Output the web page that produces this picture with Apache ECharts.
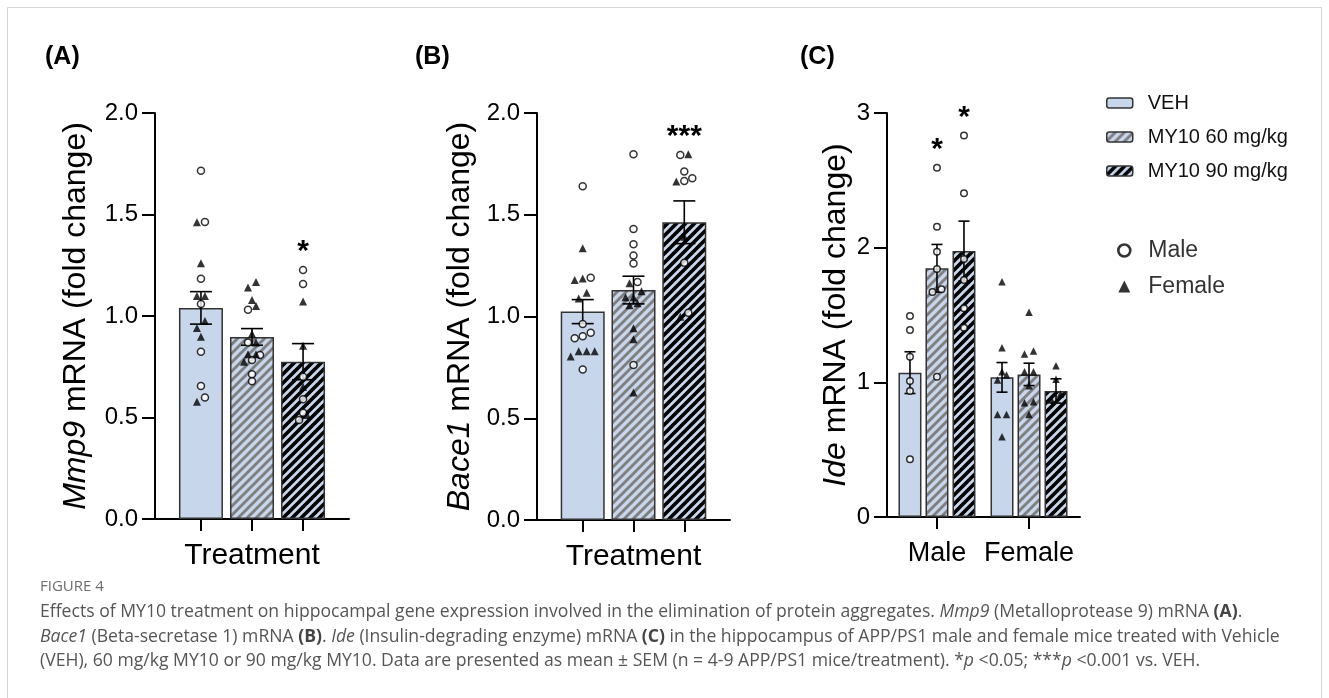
<!DOCTYPE html>
<html lang="en">
<head>
<meta charset="utf-8">
<title>Figure 4</title>
<style>
  html, body { margin: 0; padding: 0; background: #fff; }
  #fig { width: 1329px; height: 698px; }
</style>
</head>
<body>
<div id="fig"></div>
<script src="https://cdn.jsdelivr.net/npm/echarts@6/dist/echarts.min.js"></script>
<script>
var treatments = ['VEH', 'MY10 60 mg/kg', 'MY10 90 mg/kg'];
var sexes = ['Male', 'Female'];

// (A) Mmp9 - mean, SEM and individual animals per treatment
var mmp9Mean = [1.04, 0.897, 0.775];
var mmp9Sem = [0.08, 0.041, 0.089];
var mmp9Male = [
  [1.716, 1.463, 1.184, 1.059, 0.824, 0.655, 0.599],
  [1.031, 0.869, 0.808, 0.783, 0.713, 0.678],
  [1.227, 1.158, 0.701, 0.59, 0.524, 0.488]
];
var mmp9Female = [
  [1.462, 1.26, 1.099, 1.099, 0.975, 0.941, 0.898, 0.578],
  [1.167, 1.14, 1.079, 1.049, 0.913, 0.869, 0.811, 0.811, 0.775],
  [1.071, 0.854, 0.652, 0.512]
];
var mmp9Sig = ['', '', '*'];

// (B) Bace1
var bace1Mean = [1.024, 1.13, 1.463];
var bace1Sem = [0.059, 0.068, 0.105];
var bace1Male = [
  [1.64, 1.19, 0.963, 0.92, 0.903, 0.893, 0.74],
  [1.797, 1.43, 1.355, 1.30, 1.261, 1.17, 0.762],
  [1.794, 1.712, 1.679, 1.666, 1.264, 1.019]
];
var bace1Female = [
  [1.335, 1.187, 1.179, 1.117, 1.089, 0.829, 0.829, 0.829, 0.803],
  [1.163, 1.124, 1.094, 1.094, 1.065, 1.055, 0.942, 0.888, 0.626],
  [1.797, 1.663, 1.392, 0.999]
];
var bace1Sig = ['', '', '***'];

// (C) Ide, split by sex
var ideMaleMean = [1.072, 1.847, 1.975];
var ideMaleSem = [0.155, 0.177, 0.222];
var ideFemaleMean = [1.037, 1.059, 0.936];
var ideFemaleSem = [0.11, 0.083, 0.09];
var ideMale = [
  [1.493, 1.389, 1.19, 1.01, 0.936, 0.428],
  [2.594, 2.156, 1.97, 1.842, 1.691, 1.671, 1.042],
  [2.832, 2.404, 1.916, 1.76, 1.55, 1.406]
];
var ideFemale = [
  [1.747, 1.257, 1.079, 1.054, 1.017, 0.762, 0.762, 0.596],
  [1.52, 1.233, 1.21, 1.079, 1.079, 0.975, 0.856, 0.849, 0.762],
  [1.124, 1.022, 0.913, 0.869]
];
var ideMaleSig = ['', '*', '*'];
var ideFemaleSig = ['', '', ''];

var FONT = "'Liberation Sans', Arial, Helvetica, sans-serif";
var CAPFONT = "'Open Sans', 'Noto Sans', sans-serif";
var BLUE = '#c7d6ea';

// stripe tile used as a bar fill
function stripes(lineColor, lineW) {
  var s = 9, c = document.createElement('canvas');
  c.width = s; c.height = s;
  var g = c.getContext('2d');
  g.fillStyle = BLUE;
  g.fillRect(0, 0, s, s);
  g.strokeStyle = lineColor;
  g.lineWidth = lineW;
  g.beginPath();
  for (var k = -1; k <= 1; k++) {
    g.moveTo(k * s - 2, s + 2);
    g.lineTo(k * s + s + 2, -2);
  }
  g.stroke();
  return c;
}
var fills = [
  BLUE,
  { image: stripes('#7f7f7f', 2.9), repeat: 'repeat' },
  { image: stripes('#000', 3.6), repeat: 'repeat' }
];

// rows of close values get spread sideways, like the prism dot plot
function swarm(values, pxPerUnit, gap, rowPx) {
  var idx = values.map(function (v, i) { return i; });
  idx.sort(function (a, b) { return values[a] - values[b]; });
  var offs = [], row = [];
  function flush() {
    row.forEach(function (k, n) { offs[k] = (n - (row.length - 1) / 2) * gap; });
    row = [];
  }
  idx.forEach(function (k) {
    if (row.length && (values[k] - values[row[0]]) * pxPerUnit > rowPx) flush();
    row.push(k);
  });
  flush();
  return offs;
}

var grids = [
  { left: 155, top: 113, width: 194, height: 406 },
  { left: 537, top: 113, width: 193, height: 407 },
  { left: 887, top: 113, width: 193, height: 404 }
];

var series = [];

function errorSeries(p, data, cap) {
  return {
    type: 'custom', xAxisIndex: p, yAxisIndex: p, z: 3, silent: true,
    renderItem: function (params, api) {
      var x = api.value(0), m = api.value(1), s = api.value(2), sh = api.value(3);
      var top = api.coord([x, m + s]), bot = api.coord([x, m - s]);
      var cx = top[0] + sh;
      var st = { stroke: '#000', lineWidth: 1.6, fill: 'none' };
      return { type: 'group', children: [
        { type: 'line', shape: { x1: cx, y1: top[1], x2: cx, y2: bot[1] }, style: st },
        { type: 'line', shape: { x1: cx - cap / 2, y1: top[1], x2: cx + cap / 2, y2: top[1] }, style: st },
        { type: 'line', shape: { x1: cx - cap / 2, y1: bot[1], x2: cx + cap / 2, y2: bot[1] }, style: st }
      ] };
    },
    data: data
  };
}

function starSeries(p, data, labels) {
  return {
    type: 'custom', xAxisIndex: p, yAxisIndex: p, z: 5, silent: true,
    renderItem: function (params, api) {
      var t = labels[params.dataIndex];
      if (!t) return null;
      var pt = api.coord([api.value(0), api.value(1)]);
      return { type: 'text', x: pt[0] + api.value(2), y: pt[1] - 18,
        style: { text: t, fill: '#000', font: 'bold 30px ' + FONT, align: 'center', verticalAlign: 'middle' } };
    },
    data: data
  };
}

var maleStyle = { symbol: 'circle', symbolSize: 7, itemStyle: { color: '#fff', borderColor: '#000', borderWidth: 1.5 } };
var femaleStyle = { symbol: 'triangle', symbolSize: 8, itemStyle: { color: '#000', borderColor: '#000', borderWidth: 0 } };

function scatterSeries(p, name, data, st, size) {
  return {
    type: 'scatter', name: name, xAxisIndex: p, yAxisIndex: p, z: 4, silent: true,
    symbol: st.symbol, symbolSize: size || st.symbolSize, itemStyle: st.itemStyle, data: data
  };
}

// panels A and B: one column per treatment
[[mmp9Mean, mmp9Sem, mmp9Male, mmp9Female, mmp9Sig], [bace1Mean, bace1Sem, bace1Male, bace1Female, bace1Sig]].forEach(function (d, p) {
  var ppu = grids[p].height / 2;
  var males = [], females = [], errs = [], stars = [];
  treatments.forEach(function (t, j) {
    series.push({
      type: 'bar', name: t, xAxisIndex: p, yAxisIndex: p, barWidth: 44, barGap: '-100%', z: 2,
      itemStyle: { color: fills[j], borderColor: '#333', borderWidth: 1.5 },
      data: [[j + 1, d[0][j]]]
    });
    var all = d[2][j].concat(d[3][j]);
    var offs = swarm(all, ppu, 8, 7);
    all.forEach(function (v, i) {
      var item = { value: [j + 1, v], symbolOffset: [offs[i], 0] };
      (i < d[2][j].length ? males : females).push(item);
    });
    errs.push([j + 1, d[0][j], d[1][j], 0]);
    stars.push([j + 1, Math.max.apply(null, all), 0]);
  });
  series.push(errorSeries(p, errs, 22));
  series.push(scatterSeries(p, 'Male', males, maleStyle));
  series.push(scatterSeries(p, 'Female', females, femaleStyle));
  series.push(starSeries(p, stars, d[4]));
});

// panel C: treatments side by side inside each sex
(function () {
  var p = 2, bw = 23, step = 27;
  var ppu = grids[p].height / 3;
  var means = [ideMaleMean, ideFemaleMean], sems = [ideMaleSem, ideFemaleSem];
  var pts = [ideMale, ideFemale], sigs = [ideMaleSig, ideFemaleSig];
  var males = [], females = [], errs = [], stars = [], starLabels = [];
  treatments.forEach(function (t, j) {
    series.push({
      type: 'bar', name: t, xAxisIndex: p, yAxisIndex: p, barWidth: bw, barGap: ((step - bw) / bw * 100) + '%', z: 2,
      itemStyle: { color: fills[j], borderColor: '#333', borderWidth: 1.5 },
      data: [[1, ideMaleMean[j]], [2, ideFemaleMean[j]]]
    });
  });
  sexes.forEach(function (s, g) {
    treatments.forEach(function (t, j) {
      var sh = (j - 1) * step;
      var vals = pts[g][j];
      var offs = swarm(vals, ppu, 9, 7);
      vals.forEach(function (v, i) {
        var item = { value: [g + 1, v], symbolOffset: [sh + offs[i], 0] };
        (g === 0 ? males : females).push(item);
      });
      errs.push([g + 1, means[g][j], sems[g][j], sh]);
      stars.push([g + 1, Math.max.apply(null, vals), sh]);
      starLabels.push(sigs[g][j]);
    });
  });
  series.push(errorSeries(p, errs, 11));
  series.push(scatterSeries(p, 'Male', males, maleStyle, 6.5));
  series.push(scatterSeries(p, 'Female', females, femaleStyle, 7.5));
  series.push(starSeries(p, stars, starLabels));
})();

var axisLine = { show: true, lineStyle: { color: '#000', width: 2 } };
var axisTick = { show: true, length: 13, lineStyle: { color: '#000', width: 2 } };

function yAxis(p, max, name, nameGap, fmt) {
  return {
    type: 'value', gridIndex: p, min: 0, max: max, interval: max === 3 ? 1 : 0.5,
    axisLine: axisLine, axisTick: axisTick, splitLine: { show: false },
    axisLabel: { fontSize: 24, color: '#000', fontFamily: FONT, margin: 17, formatter: fmt },
    name: name, nameLocation: 'middle', nameGap: nameGap, nameRotate: 90,
    nameTextStyle: { fontSize: 32, color: '#000', fontFamily: FONT,
      rich: { i: { fontSize: 32, fontStyle: 'italic', color: '#000', fontFamily: FONT } } }
  };
}
function fix1(v) { return v.toFixed(1); }

function treatAxis(p) {
  return {
    type: 'value', gridIndex: p, min: 0.1, max: 3.9, axisLine: axisLine, splitLine: { show: false },
    axisTick: { show: true, length: 12, customValues: [1, 2, 3], lineStyle: { color: '#000', width: 2 } },
    axisLabel: { show: false },
    name: 'Treatment', nameLocation: 'middle', nameGap: 22,
    nameTextStyle: { fontSize: 30, color: '#000', fontFamily: FONT }
  };
}

var capRich = {
  i: { fontStyle: 'italic', fontSize: 17.6, fontFamily: CAPFONT, fill: '#555' },
  b: { fontWeight: 'bold', fontSize: 17.6, fontFamily: CAPFONT, fill: '#444' }
};

var option = {
  animation: false,
  backgroundColor: '#fff',
  textStyle: { fontFamily: FONT },
  title: [
    { text: '(A)', left: 45, top: 45, padding: 0, textStyle: { fontSize: 25, fontWeight: 'bold', color: '#000', fontFamily: FONT } },
    { text: '(B)', left: 415, top: 45, padding: 0, textStyle: { fontSize: 25, fontWeight: 'bold', color: '#000', fontFamily: FONT } },
    { text: '(C)', left: 800, top: 45, padding: 0, textStyle: { fontSize: 25, fontWeight: 'bold', color: '#000', fontFamily: FONT } }
  ],
  legend: [
    {
      data: treatments, orient: 'vertical', left: 1106, top: 93, padding: 0,
      itemWidth: 26, itemHeight: 10, itemGap: 14, selectedMode: false,
      itemStyle: { borderColor: '#333', borderWidth: 1.5 },
      textStyle: { fontSize: 20, color: '#111', fontFamily: FONT, padding: [0, 0, 0, 10] }
    },
    {
      data: [
        { name: 'Male', itemStyle: { color: '#fff', borderColor: '#000', borderWidth: 2.6 } },
        { name: 'Female', itemStyle: { color: '#000', borderColor: '#000', borderWidth: 0 } }
      ],
      orient: 'vertical', left: 1117, top: 239, padding: 0,
      itemWidth: 12, itemHeight: 12, itemGap: 13, selectedMode: false,
      textStyle: { fontSize: 23, color: '#333', fontFamily: FONT, padding: [0, 0, 0, 13] }
    }
  ],
  grid: grids,
  xAxis: [
    treatAxis(0),
    treatAxis(1),
    { type: 'value', gridIndex: 2, min: 0.457, max: 2.554, axisLine: axisLine, splitLine: { show: false },
      axisTick: { show: true, length: 12, customValues: [1, 2], lineStyle: { color: '#000', width: 2 } },
      axisLabel: { show: true, customValues: [1, 2], fontSize: 27, color: '#000', fontFamily: FONT, margin: 23,
        formatter: function (v) { return sexes[Math.round(v) - 1]; } } }
  ],
  yAxis: [
    yAxis(0, 2, '{i|Mmp9} mRNA (fold change)', 63, fix1),
    yAxis(1, 2, '{i|Bace1} mRNA (fold change)', 61, fix1),
    yAxis(2, 3, '{i|Ide} mRNA (fold change)', 35, function (v) { return String(v); })
  ],
  series: series,
  graphic: [
    { type: 'rect', shape: { x: 7.5, y: 7.5, width: 1314, height: 720 }, style: { fill: 'none', stroke: '#d6d6d6', lineWidth: 1 }, silent: true },
    { type: 'text', x: 40, y: 587, style: { text: 'FIGURE 4', fill: '#6d6d6d', font: '15px ' + CAPFONT, verticalAlign: 'middle' } },
    { type: 'text', x: 40, y: 612, style: {
      text: 'Effects of MY10 treatment on hippocampal gene expression involved in the elimination of protein aggregates. {i|Mmp9} (Metalloprotease 9) mRNA {b|(A)}.',
      fill: '#555', font: '17.6px ' + CAPFONT, verticalAlign: 'middle', rich: capRich } },
    { type: 'text', x: 40, y: 637, style: {
      text: '{i|Bace1} (Beta-secretase 1) mRNA {b|(B)}. {i|Ide} (Insulin-degrading enzyme) mRNA {b|(C)} in the hippocampus of APP/PS1 male and female mice treated with Vehicle',
      fill: '#555', font: '17.6px ' + CAPFONT, verticalAlign: 'middle', rich: capRich } },
    { type: 'text', x: 40, y: 661, style: {
      text: '(VEH), 60 mg/kg MY10 or 90 mg/kg MY10. Data are presented as mean \u00b1 SEM (n = 4-9 APP/PS1 mice/treatment). *{i|p} <0.05; ***{i|p} <0.001 vs. VEH.',
      fill: '#555', font: '17.6px ' + CAPFONT, verticalAlign: 'middle', rich: capRich } }
  ]
};

var chart = echarts.init(document.getElementById('fig'));
chart.setOption(option);
window.addEventListener('resize', function () { chart.resize(); });
</script>
</body>
</html>
